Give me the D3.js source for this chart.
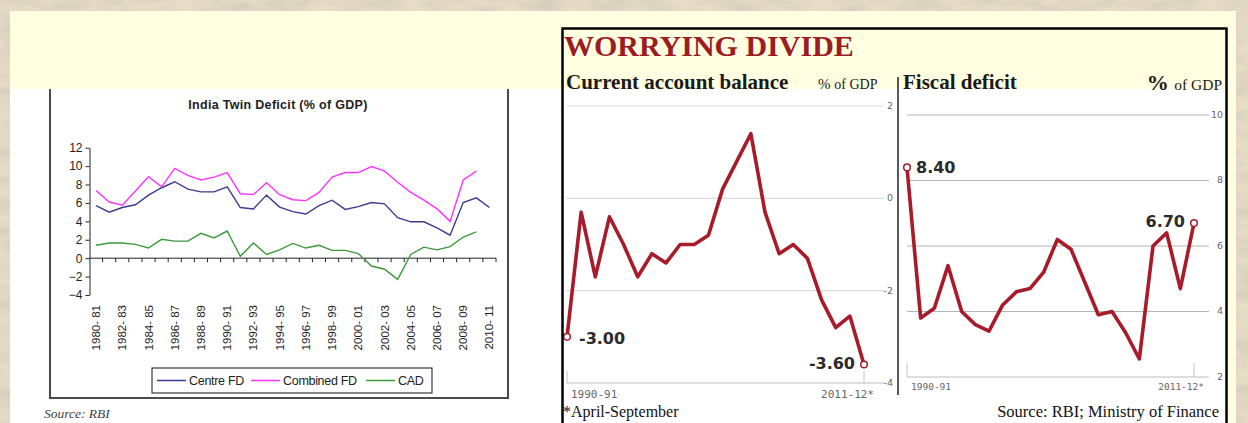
<!DOCTYPE html>
<html>
<head>
<meta charset="utf-8">
<script src="https://cdn.jsdelivr.net/npm/d3@7"></script>
<style>
body{margin:0;background:#e4d9c5;}
svg{display:block;}
</style>
</head>
<body>
<svg id="slide" width="1248" height="423"></svg>
<script>
//////////////////// data, left chart (RBI twin deficit)
var twinYears=["1980-81","1981-82","1982-83","1983-84","1984-85","1985-86","1986-87","1987-88","1988-89","1989-90",
	"1990-91","1991-92","1992-93","1993-94","1994-95","1995-96","1996-97","1997-98","1998-99","1999-00",
	"2000-01","2001-02","2002-03","2003-04","2004-05","2005-06","2006-07","2007-08","2008-09","2009-10","2010-11"];
var centreFD=[5.7,5.0,5.5,5.8,6.85,7.65,8.3,7.5,7.2,7.2,7.75,5.5,5.35,6.85,5.55,5.05,4.8,5.7,6.3,5.3,5.6,6.05,5.9,4.4,3.95,3.95,3.3,2.5,6.05,6.55,5.5];
var combinedFD=[7.35,6.1,5.75,7.3,8.85,7.75,9.75,9.0,8.5,8.8,9.3,7.0,6.9,8.2,6.9,6.35,6.25,7.15,8.8,9.3,9.3,9.95,9.45,8.25,7.15,6.3,5.35,4.0,8.5,9.45];
var cad=[1.4,1.65,1.65,1.5,1.1,2.05,1.85,1.85,2.7,2.2,2.95,0.2,1.65,0.4,0.9,1.6,1.1,1.4,0.85,0.85,0.5,-0.85,-1.2,-2.3,0.4,1.2,0.9,1.25,2.3,2.85];
var twinTicks=[-4,-2,0,2,4,6,8,10,12];
var twinSeries=[
	{name:"Centre FD",values:centreFD,color:"#3a3a92"},
	{name:"Combined FD",values:combinedFD,color:"#ff33ff"},
	{name:"CAD",values:cad,color:"#3c993c"}
];

//////////////////// data, right chart (worrying divide)
var divideYears=["1990-91","1991-92","1992-93","1993-94","1994-95","1995-96","1996-97","1997-98","1998-99","1999-00","2000-01",
	"2001-02","2002-03","2003-04","2004-05","2005-06","2006-07","2007-08","2008-09","2009-10","2010-11","2011-12*"];
var cab=[-3.0,-0.3,-1.7,-0.4,-1.0,-1.7,-1.2,-1.4,-1.0,-1.0,-0.8,0.2,0.8,1.4,-0.3,-1.2,-1.0,-1.3,-2.2,-2.8,-2.55,-3.6];
var fiscal=[8.4,3.8,4.1,5.4,4.0,3.6,3.4,4.2,4.6,4.7,5.2,6.2,5.9,4.9,3.9,4.0,3.35,2.55,6.0,6.4,4.7,6.7];
var cabTicks=[2,0,-2,-4];
var fiscalTicks=[10,8,6,4,2];

var svg=d3.select("#slide");
var defs=svg.append("defs");

//marble texture of the slide
var marble=defs.append("filter").attr("id","marble").attr("x",0).attr("y",0).attr("width","100%").attr("height","100%");
marble.append("feTurbulence").attr("type","fractalNoise").attr("baseFrequency","0.03 0.08").attr("numOctaves",4).attr("seed",7);
marble.append("feColorMatrix").attr("type","matrix")
	.attr("values","0 0 0 0 0.62  0 0 0 0 0.56  0 0 0 0 0.47  1.3 0 0 0 -0.45");

svg.append("rect").attr("width",1248).attr("height",423).attr("fill","#e6dcc8");
svg.append("rect").attr("width",1248).attr("height",423).attr("filter","url(#marble)");

//yellow content panel + white picture area
svg.append("rect").attr("x",10).attr("y",11).attr("width",1226).attr("height",412).attr("fill","#fffee0");
svg.append("rect").attr("x",10).attr("y",89).attr("width",553).attr("height",334).attr("fill","#ffffff");

//////////////////// left chart
var left=svg.append("g").attr("font-family","Arial, 'Liberation Sans', sans-serif");

var xL=d3.scaleBand().domain(twinYears).range([89.5,496]);
var yL=d3.scaleLinear().domain([-4,12]).range([295,147.7]);
var bw=xL.bandwidth();

//frame
left.append("path").attr("d","M50,89V398H508V89").attr("fill","none").attr("stroke","#4a4a4a").attr("stroke-width",2);

left.append("text").attr("x",278).attr("y",109).attr("text-anchor","middle")
	.attr("font-size",12.5).attr("font-weight","bold").attr("fill","#222").attr("letter-spacing","0.3")
	.text("India Twin Deficit (% of GDP)");

//y axis
var yAxisL=left.append("g").attr("transform","translate(89.5,0)")
	.call(d3.axisLeft(yL).tickValues(twinTicks).tickSize(4).tickSizeOuter(0).tickPadding(3));
yAxisL.select(".domain").attr("stroke","#222");
yAxisL.selectAll(".tick line").attr("stroke","#222");
yAxisL.selectAll("text").attr("font-size",12).attr("fill","#222").attr("font-family","Arial, 'Liberation Sans', sans-serif");

//x axis on zero line
left.append("line").attr("x1",89.5).attr("x2",496).attr("y1",yL(0)).attr("y2",yL(0)).attr("stroke","#222");
left.selectAll(".xTick").data(twinYears).enter().append("line")
	.attr("class","xTick")
	.attr("x1",function(d){return xL(d)+bw;}).attr("x2",function(d){return xL(d)+bw;})
	.attr("y1",yL(0)).attr("y2",yL(0)+4).attr("stroke","#222");

//rotated year labels, every second year
left.selectAll(".xLab").data(twinYears.filter(function(d,i){return i%2===0;})).enter().append("text")
	.attr("class","xLab")
	.attr("transform",function(d){return "translate("+(xL(d)+bw/2)+",305) rotate(-90)";})
	.attr("dy","0.35em").attr("text-anchor","end")
	.attr("font-size",11.5).attr("fill","#222")
	.text(function(d){return d.replace("-","- ");});

var lineL=d3.line()
	.x(function(d,i){return xL(twinYears[i])+bw/2;})
	.y(function(d){return yL(d);});

left.selectAll(".twinLine").data(twinSeries).enter().append("path")
	.attr("class","twinLine")
	.attr("d",function(s){return lineL(s.values);})
	.attr("fill","none").attr("stroke",function(s){return s.color;}).attr("stroke-width",1.4);

//legend
left.append("rect").attr("x",152).attr("y",368).attr("width",280).attr("height",25)
	.attr("fill","#fff").attr("stroke","#111").attr("stroke-width",1);
var legendX=[157,251,366];
var leg=left.selectAll(".leg").data(twinSeries).enter().append("g")
	.attr("class","leg")
	.attr("transform",function(d,i){return "translate("+legendX[i]+",380.5)";});
leg.append("line").attr("x1",0).attr("x2",29).attr("stroke",function(d){return d.color;}).attr("stroke-width",1.5);
leg.append("text").attr("x",32).attr("dy","0.35em").attr("font-size",12.5).attr("fill","#222")
	.attr("letter-spacing","-0.3").text(function(d){return d.name;});

left.append("text").attr("x",44).attr("y",418).attr("font-family","'Liberation Serif', 'Times New Roman', serif")
	.attr("font-style","italic").attr("font-size",13.5).attr("fill","#444").text("Source: RBI");

//////////////////// right chart
var right=svg.append("g");
var serif="'Liberation Serif', 'Times New Roman', serif";
var red="#a81b2b";

right.append("rect").attr("x",563).attr("y",89).attr("width",663).attr("height",334).attr("fill","#ffffff");

right.append("text").attr("x",564).attr("y",56).attr("font-family",serif).attr("font-weight","bold")
	.attr("font-size",30).attr("fill","#9c1c24").text("WORRYING DIVIDE");

right.append("text").attr("x",566).attr("y",89).attr("font-family",serif).attr("font-weight","bold")
	.attr("font-size",21).attr("fill","#1a1a1a").text("Current account balance");
var pctL=right.append("text").attr("x",818).attr("y",89).attr("font-family",serif).attr("fill","#1a1a1a");
pctL.append("tspan").attr("font-size",15).text("% ");
pctL.append("tspan").attr("font-size",14).text("of GDP");

right.append("text").attr("x",903).attr("y",89).attr("font-family",serif).attr("font-weight","bold")
	.attr("font-size",21).attr("fill","#1a1a1a").text("Fiscal deficit");
var pctR=right.append("text").attr("x",1222).attr("y",90).attr("text-anchor","end").attr("font-family",serif).attr("fill","#1a1a1a");
pctR.append("tspan").attr("font-size",22).attr("font-weight","bold").text("% ");
pctR.append("tspan").attr("font-size",15.5).text("of GDP");

//panel divider
right.append("line").attr("x1",898).attr("x2",898).attr("y1",77).attr("y2",395).attr("stroke","#222").attr("stroke-width",1.5);

//draw one small-multiple panel
function drawPanel(cfg){
	var g=right.append("g");
	var x=d3.scalePoint().domain(divideYears).range(cfg.xRange);
	var y=d3.scaleLinear().domain(cfg.yDomain).range(cfg.yRange);

	g.selectAll(".grid").data(cfg.ticks).enter().append("line")
		.attr("x1",cfg.gridX[0]).attr("x2",cfg.gridX[1])
		.attr("y1",function(d){return y(d);}).attr("y2",function(d){return y(d);})
		.attr("stroke",function(d){return d===cfg.yDomain[0]?"#bdbdbd":cfg.gridColor;})
		.attr("stroke-width",1.2);
	g.selectAll(".gridLab").data(cfg.ticks).enter().append("text")
		.attr("x",cfg.labX).attr("y",function(d){return y(d);}).attr("dy","0.3em")
		.attr("text-anchor","end").attr("font-family","'DejaVu Sans', sans-serif")
		.attr("font-size",9.5).attr("fill","#666").text(function(d){return d;});

	//end ticks on the baseline
	var ends=[divideYears[0],divideYears[divideYears.length-1]];
	g.selectAll(".endTick").data(ends).enter().append("line")
		.attr("x1",function(d){return x(d);}).attr("x2",function(d){return x(d);})
		.attr("y1",y(cfg.yDomain[0])).attr("y2",y(cfg.yDomain[0])-cfg.tickLen)
		.attr("stroke","#c4c4c4").attr("stroke-width",1);
	g.selectAll(".endLab").data(ends).enter().append("text")
		.attr("x",function(d,i){return i===0?x(d)+4:x(d)+10;})
		.attr("y",cfg.yearY).attr("text-anchor",function(d,i){return i===0?"start":"end";})
		.attr("font-family","'DejaVu Sans Mono', monospace").attr("font-size",cfg.yearSize).attr("fill","#666")
		.text(function(d){return d;});

	var line=d3.line()
		.x(function(d,i){return x(divideYears[i]);})
		.y(function(d){return y(d);});
	g.append("path").attr("d",line(cfg.values)).attr("fill","none")
		.attr("stroke",red).attr("stroke-width",3.6).attr("stroke-linejoin","round");

	//first and last value markers
	var last=cfg.values.length-1;
	var marks=[{i:0,v:cfg.values[0]},{i:last,v:cfg.values[last]}];
	g.selectAll(".mark").data(marks).enter().append("circle")
		.attr("cx",function(d){return x(divideYears[d.i]);}).attr("cy",function(d){return y(d.v);})
		.attr("r",3.3).attr("fill","#fff").attr("stroke",red).attr("stroke-width",1.5);
	g.selectAll(".markLab").data(marks).enter().append("text")
		.attr("x",function(d,k){return x(divideYears[d.i])+cfg.labOff[k][0];})
		.attr("y",function(d,k){return y(d.v)+cfg.labOff[k][1];})
		.attr("text-anchor",function(d,k){return k===0?"start":"end";})
		.attr("font-family","'DejaVu Sans', sans-serif").attr("font-weight","bold")
		.attr("font-size",16).attr("fill","#2b2b2b")
		.text(function(d){return d.v.toFixed(2);});
}

drawPanel({
	values:cab,ticks:cabTicks,yDomain:[-4,2],yRange:[383,106],xRange:[567,864],
	gridX:[566,884],gridColor:"#dcdcdc",labX:893,tickLen:12,yearY:398,yearSize:11,
	labOff:[[12,7],[-9,4]]
});
drawPanel({
	values:fiscal,ticks:fiscalTicks,yDomain:[2,10],yRange:[377,115],xRange:[907,1194],
	gridX:[907,1209],gridColor:"#b4b4b4",labX:1223,tickLen:14,yearY:390,yearSize:9.5,
	labOff:[[9,6],[-9,4]]
});

right.append("text").attr("x",563).attr("y",417).attr("font-family",serif).attr("font-size",16).attr("fill","#111").text("*April-September");
right.append("text").attr("x",1219).attr("y",417).attr("text-anchor","end").attr("font-family",serif)
	.attr("font-size",16.5).attr("fill","#111").text("Source: RBI; Ministry of Finance");

//chart frame
right.append("path").attr("d","M562.5,423V28.5H1226.5V423").attr("fill","none").attr("stroke","#000").attr("stroke-width",2.5);
</script>
</body>
</html>
